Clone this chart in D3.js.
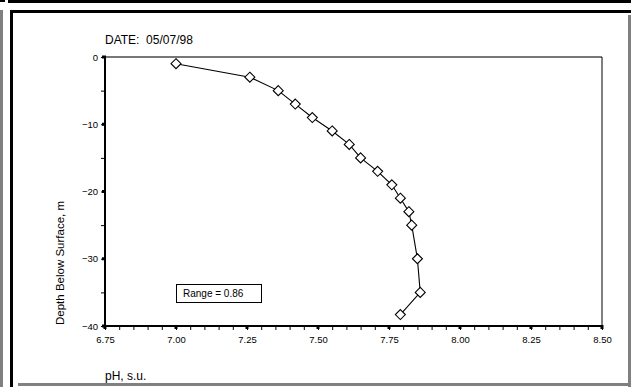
<!DOCTYPE html>
<html>
<head>
<meta charset="utf-8">
<script src="https://cdn.jsdelivr.net/npm/d3@7"></script>
<style>
  body { margin: 0; background: #fff; }
  svg { display: block; font-family: "Liberation Sans", Arial, sans-serif; }
</style>
</head>
<body>
<svg id="chart" width="631" height="387"></svg>
<script>
// profile readings, pH vs depth
const phValues = [7.00, 7.26, 7.36, 7.42, 7.48, 7.55, 7.61, 7.65, 7.71, 7.76, 7.79, 7.82, 7.83, 7.85, 7.86, 7.79];
const depthValues = [-1, -3, -5, -7, -9, -11, -13, -15, -17, -19, -21, -23, -25, -30, -35, -38.3];
const xMajorTicks = [6.75, 7.00, 7.25, 7.50, 7.75, 8.00, 8.25, 8.50];
const yMajorTicks = [0, -10, -20, -30, -40];
const dateLabel = 'DATE:  05/07/98';
const rangeLabel = 'Range = 0.86';

const svg = d3.select('#chart');
const plot = { left: 105, right: 602, top: 57, bottom: 326 };

// window frame
const frame = [
  { x: 8, y: 0, w: 623, h: 3, c: '#000' },
  { x: 0, y: 0, w: 5, h: 2, c: '#000' },
  { x: 10, y: 10, w: 621, h: 3, c: '#000' },
  { x: 0, y: 10, w: 3, h: 377, c: '#808080' },
  { x: 10, y: 10, w: 3, h: 377, c: '#000' },
  { x: 628, y: 15, w: 3, h: 372, c: '#808080' },
  { x: 18, y: 383, w: 613, h: 3, c: '#808080' },
];
svg.selectAll('rect.frame')
  .data(frame)
  .join('rect')
  .attr('class', 'frame')
  .attr('x', (d) => d.x)
  .attr('y', (d) => d.y)
  .attr('width', (d) => d.w)
  .attr('height', (d) => d.h)
  .attr('fill', (d) => d.c);

const xScale = d3.scaleLinear().domain([6.75, 8.5]).range([plot.left, plot.right]);
const yScale = d3.scaleLinear().domain([-40, 0]).range([plot.bottom, plot.top]);

// plot border: gray top, thin black right
svg.append('line')
  .attr('x1', plot.left).attr('x2', plot.right)
  .attr('y1', plot.top).attr('y2', plot.top)
  .attr('stroke', '#777').attr('stroke-width', 2);
svg.append('line')
  .attr('x1', plot.right).attr('x2', plot.right)
  .attr('y1', plot.top).attr('y2', plot.bottom)
  .attr('stroke', '#000').attr('stroke-width', 1);

// minor ticks
const xMinor = d3.range(0, 36).map((i) => 6.75 + i * 0.05);
const yMinor = d3.range(0, 9).map((i) => -i * 5);

const xAxisG = svg.append('g').attr('transform', `translate(0,${plot.bottom})`);
xAxisG.call(d3.axisBottom(xScale).tickValues(xMinor).tickSize(4).tickFormat(''))
  .call((g) => g.select('.domain').remove())
  .selectAll('.tick line').attr('stroke', '#000');

const xLabels = svg.append('g').attr('transform', `translate(0,${plot.bottom})`);
xLabels.call(d3.axisBottom(xScale).tickValues(xMajorTicks).tickSize(0).tickPadding(10).tickFormat(d3.format('.2f')))
  .call((g) => g.select('.domain').remove())
  .selectAll('.tick text')
  .attr('fill', '#000')
  .attr('font-size', 9.5)
  .attr('font-family', '"Liberation Sans", Arial, sans-serif');

const yAxisG = svg.append('g').attr('transform', `translate(${plot.left},0)`);
yAxisG.call(d3.axisLeft(yScale).tickValues(yMinor).tickSize(4).tickFormat(''))
  .call((g) => g.select('.domain').remove())
  .selectAll('.tick line').attr('stroke', '#000');

const yLabels = svg.append('g').attr('transform', `translate(${plot.left},0)`);
yLabels.call(d3.axisLeft(yScale).tickValues(yMajorTicks).tickSize(0).tickPadding(7).tickFormat(d3.format('d')))
  .call((g) => g.select('.domain').remove())
  .selectAll('.tick text')
  .attr('fill', '#000')
  .attr('font-size', 9.5)
  .attr('font-family', '"Liberation Sans", Arial, sans-serif');

// axis lines
svg.append('line')
  .attr('x1', plot.left).attr('x2', plot.left)
  .attr('y1', plot.top - 1).attr('y2', plot.bottom + 1)
  .attr('stroke', '#000').attr('stroke-width', 2);
svg.append('line')
  .attr('x1', plot.left - 1).attr('x2', plot.right + 1)
  .attr('y1', plot.bottom).attr('y2', plot.bottom)
  .attr('stroke', '#000').attr('stroke-width', 2);

// dots at major ticks
svg.selectAll('rect.xdot')
  .data(xMajorTicks)
  .join('rect')
  .attr('class', 'xdot')
  .attr('x', (d) => xScale(d) - 1.5)
  .attr('y', plot.bottom - 1)
  .attr('width', 3)
  .attr('height', 4)
  .attr('fill', '#000');
svg.selectAll('rect.ydot')
  .data(yMajorTicks)
  .join('rect')
  .attr('class', 'ydot')
  .attr('x', plot.left - 3)
  .attr('y', (d) => yScale(d) - 1.5)
  .attr('width', 4)
  .attr('height', 3)
  .attr('fill', '#000');

// the profile
const points = phValues.map((v, i) => ({ ph: v, depth: depthValues[i] }));
const line = d3.line().x((d) => xScale(d.ph)).y((d) => yScale(d.depth));
svg.append('path')
  .datum(points)
  .attr('d', line)
  .attr('fill', 'none')
  .attr('stroke', '#000')
  .attr('stroke-width', 1.1);

const diamond = 'M0,-5L5,0L0,5L-5,0Z';
svg.selectAll('path.marker')
  .data(points)
  .join('path')
  .attr('class', 'marker')
  .attr('d', diamond)
  .attr('transform', (d) => `translate(${xScale(d.ph)},${yScale(d.depth)})`)
  .attr('fill', '#fff')
  .attr('stroke', '#000')
  .attr('stroke-width', 1.1);

// range box
svg.append('rect')
  .attr('x', 176.5).attr('y', 284.5)
  .attr('width', 85).attr('height', 18)
  .attr('fill', '#fff').attr('stroke', '#000').attr('stroke-width', 1);
svg.append('text')
  .attr('x', 183).attr('y', 297)
  .attr('font-size', 10)
  .attr('fill', '#000')
  .text(rangeLabel);

// titles
svg.append('text')
  .attr('x', 105).attr('y', 44)
  .attr('font-size', 12)
  .attr('fill', '#000')
  .style('white-space', 'pre')
  .text(dateLabel);
svg.append('text')
  .attr('x', 105).attr('y', 380)
  .attr('font-size', 12)
  .attr('fill', '#000')
  .text('pH, s.u.');
svg.append('text')
  .attr('transform', 'translate(64,325) rotate(-90)')
  .attr('font-size', 11.5)
  .attr('fill', '#000')
  .text('Depth Below Surface, m');
</script>
</body>
</html>
